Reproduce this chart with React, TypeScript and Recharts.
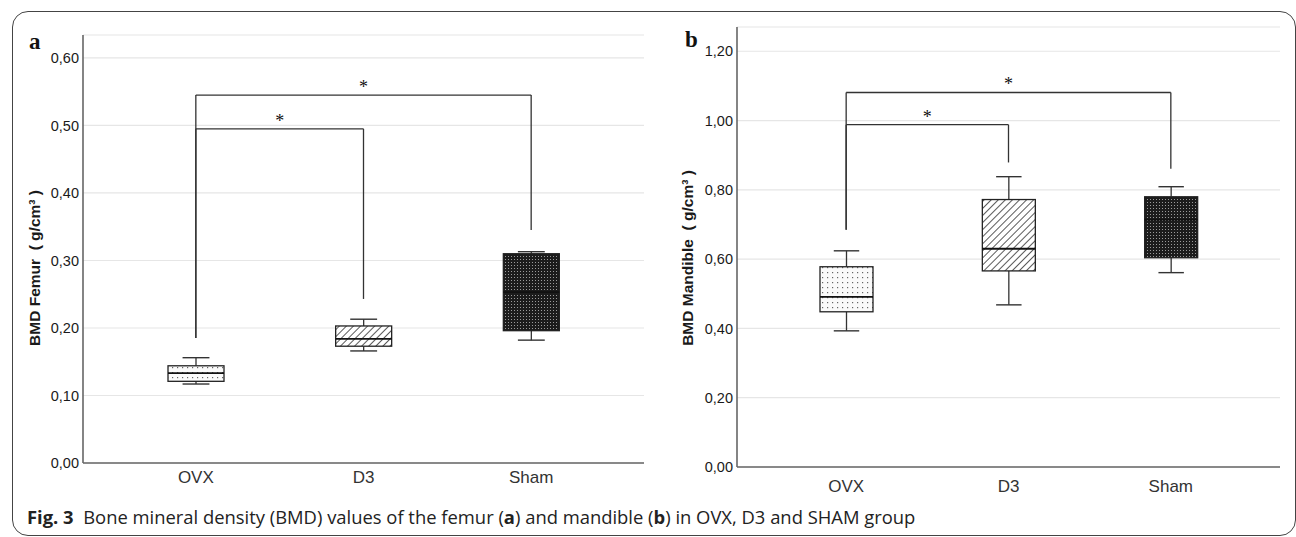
import { ComposedChart, Bar, XAxis, YAxis, CartesianGrid, ReferenceLine } from "recharts";

const groups = ["OVX", "D3", "Sham"];
const groupPattern = ["dots", "hatch", "check"];

// panel a: femur BMD (g/cm3)
const femurMin = [0.117, 0.166, 0.182];
const femurQ1 = [0.121, 0.173, 0.196];
const femurMedian = [0.133, 0.184, 0.253];
const femurQ3 = [0.144, 0.203, 0.31];
const femurMax = [0.156, 0.213, 0.313];
const femurTicks = [0, 0.1, 0.2, 0.3, 0.4, 0.5, 0.6];

// panel b: mandible BMD (g/cm3)
const mandMin = [0.393, 0.468, 0.561];
const mandQ1 = [0.448, 0.566, 0.604];
const mandMedian = [0.491, 0.63, 0.714];
const mandQ3 = [0.578, 0.772, 0.78];
const mandMax = [0.624, 0.838, 0.809];
const mandTicks = [0, 0.2, 0.4, 0.6, 0.8, 1.0, 1.2];

// significance brackets: [from, to, bar level, left leg end, right leg end]
const femurBrackets: [string, string, number, number, number][] = [
  ["OVX", "D3", 0.495, 0.185, 0.243],
  ["OVX", "Sham", 0.545, 0.185, 0.345],
];
const mandBrackets: [string, string, number, number, number][] = [
  ["OVX", "D3", 0.988, 0.685, 0.879],
  ["OVX", "Sham", 1.081, 0.685, 0.861],
];

const comma = (v: number) => v.toFixed(2).replace(".", ",");

function buildRows(mins: number[], q1: number[], med: number[], q3: number[], maxs: number[]) {
  return groups.map((name, i) => ({
    name,
    box: [q1[i], q3[i]],
    min: mins[i],
    median: med[i],
    max: maxs[i],
    pattern: groupPattern[i],
  }));
}

function makeBoxShape(prefix: string) {
  return (props: any) => {
    const { x, y, width, height, payload } = props;
    const [lo, hi] = payload.box;
    const top = Math.min(y, y + height);
    const h = Math.abs(height);
    const k = h / (hi - lo);
    const toY = (v: number) => top + h - (v - lo) * k;
    const cx = x + width / 2;
    const cap = width * 0.48;
    const yMax = toY(payload.max);
    const yMin = toY(payload.min);
    return (
      <g>
        <line x1={cx} x2={cx} y1={yMax} y2={top} stroke="#333" strokeWidth={1.3} />
        <line x1={cx - cap / 2} x2={cx + cap / 2} y1={yMax} y2={yMax} stroke="#333" strokeWidth={1.4} />
        <line x1={cx} x2={cx} y1={top + h} y2={yMin} stroke="#333" strokeWidth={1.3} />
        <line x1={cx - cap / 2} x2={cx + cap / 2} y1={yMin} y2={yMin} stroke="#333" strokeWidth={1.4} />
        <rect
          x={x}
          y={top}
          width={width}
          height={h}
          fill={`url(#${prefix}-${payload.pattern})`}
          stroke="#222"
          strokeWidth={1.3}
        />
        <line x1={x} x2={x + width} y1={toY(payload.median)} y2={toY(payload.median)} stroke="#111" strokeWidth={1.8} />
      </g>
    );
  };
}

function Patterns({ prefix }: { prefix: string }) {
  return (
    <defs>
      <pattern id={`${prefix}-dots`} width={5} height={5} patternUnits="userSpaceOnUse">
        <rect width={5} height={5} fill="#fafafa" />
        <rect x={2} y={2} width={1.2} height={1.2} fill="#666" />
      </pattern>
      <pattern id={`${prefix}-hatch`} width={5} height={5} patternUnits="userSpaceOnUse" patternTransform="rotate(45)">
        <rect width={5} height={5} fill="#fff" />
        <line x1={0} y1={0} x2={0} y2={5} stroke="#222" strokeWidth={1.5} />
      </pattern>
      <pattern id={`${prefix}-check`} width={3} height={3} patternUnits="userSpaceOnUse">
        <rect width={3} height={3} fill="#1c1c1c" />
        <rect x={1} y={1} width={1} height={1} fill="#9a9a9a" />
      </pattern>
    </defs>
  );
}

interface PanelProps {
  prefix: string;
  rows: ReturnType<typeof buildRows>;
  ticks: number[];
  top: number;
  brackets: [string, string, number, number, number][];
  width: number;
  margin: { top: number; right: number; left: number; bottom: number };
  pad: number;
  barSize: number;
  labelGap: number;
}

const axisFont = "'Liberation Sans Narrow', 'Liberation Sans', Arial";

function Panel({ prefix, rows, ticks, top, brackets, width, margin, pad, barSize, labelGap }: PanelProps) {
  return (
    <ComposedChart width={width} height={537} data={rows} margin={margin}>
      <Patterns prefix={prefix} />
      <CartesianGrid vertical={false} stroke="#e6e6e6" strokeWidth={1.2} />
      <XAxis
        dataKey="name"
        height={30}
        padding={{ left: pad, right: pad }}
        axisLine={{ stroke: "#666", strokeWidth: 1.6 }}
        tickLine={false}
        tickSize={0}
        tickMargin={labelGap}
        tick={{ fill: "#333", fontSize: 17, fontFamily: axisFont }}
      />
      <YAxis
        width={60}
        domain={[0, top]}
        ticks={ticks}
        tickFormatter={comma}
        axisLine={{ stroke: "#666", strokeWidth: 1.6 }}
        tickLine={false}
        tickSize={0}
        tickMargin={4}
        tick={{ fill: "#1a1a1a", fontSize: 14.5, fontFamily: axisFont }}
      />
      <Bar dataKey="box" barSize={barSize} shape={makeBoxShape(prefix)} isAnimationActive={false} />
      {brackets.map(([from, to, level, leftEnd, rightEnd]) => (
        <g key={`${from}-${to}`}>
          <ReferenceLine
            segment={[{ x: from, y: level }, { x: to, y: level }]}
            stroke="#333"
            strokeWidth={1.3}
            label={{ value: "*", position: "top", fill: "#111", fontSize: 18, offset: 2 }}
          />
          <ReferenceLine segment={[{ x: from, y: level }, { x: from, y: leftEnd }]} stroke="#333" strokeWidth={1.3} />
          <ReferenceLine segment={[{ x: to, y: level }, { x: to, y: rightEnd }]} stroke="#333" strokeWidth={1.3} />
        </g>
      ))}
    </ComposedChart>
  );
}

const femurRows = buildRows(femurMin, femurQ1, femurMedian, femurQ3, femurMax);
const mandRows = buildRows(mandMin, mandQ1, mandMedian, mandQ3, mandMax);

const titleStyle: React.CSSProperties = {
  position: "absolute",
  transform: "translate(-50%, -50%) rotate(-90deg)",
  whiteSpace: "nowrap",
  fontFamily: "'Liberation Sans', Arial, sans-serif",
  fontWeight: "bold",
  fontSize: 15.5,
  color: "#1a1a1a",
};

const letterStyle: React.CSSProperties = {
  position: "absolute",
  fontFamily: "'Liberation Serif', 'DejaVu Serif', serif",
  fontWeight: "bold",
  fontSize: 23,
  lineHeight: "23px",
  color: "#111",
};

export default function App() {
  return (
    <div style={{ position: "absolute", left: 0, top: 0, width: 1296, height: 537, background: "#fff", overflow: "hidden" }}>
      <div
        style={{
          position: "absolute",
          left: 12,
          top: 11,
          width: 1284,
          height: 525,
          boxSizing: "border-box",
          border: "1.5px solid #444",
          borderRadius: 16,
        }}
      />
      <div style={{ position: "absolute", left: 0, top: 0 }}>
        <Panel
          prefix="a"
          rows={femurRows}
          ticks={femurTicks}
          top={0.634}
          brackets={femurBrackets}
          width={660}
          margin={{ top: 35, right: 16, left: 23, bottom: 44 }}
          pad={29}
          barSize={56}
          labelGap={8}
        />
      </div>
      <div style={{ position: "absolute", left: 660, top: 0 }}>
        <Panel
          prefix="b"
          rows={mandRows}
          ticks={mandTicks}
          top={1.27}
          brackets={mandBrackets}
          width={636}
          margin={{ top: 27, right: 16, left: 17, bottom: 40 }}
          pad={28}
          barSize={53}
          labelGap={13}
        />
      </div>
      <div style={{ ...letterStyle, left: 29, top: 30 }}>a</div>
      <div style={{ ...letterStyle, left: 685, top: 28 }}>b</div>
      <div style={{ ...titleStyle, left: 35, top: 268 }}>BMD Femur&nbsp;&nbsp;( g/cm³ )</div>
      <div style={{ ...titleStyle, left: 688, top: 258 }}>BMD Mandible&nbsp;&nbsp;( g/cm³ )</div>
      <div
        style={{
          position: "absolute",
          left: 27,
          top: 505,
          whiteSpace: "nowrap",
          fontFamily: "'Open Sans', 'Noto Sans', sans-serif",
          fontSize: 18.4,
          lineHeight: "24px",
          color: "#222",
        }}
      >
        <b>Fig. 3</b>&nbsp;&nbsp;Bone mineral density (BMD) values of the femur (<b>a</b>) and mandible (<b>b</b>) in OVX, D3 and
        SHAM group
      </div>
    </div>
  );
}
